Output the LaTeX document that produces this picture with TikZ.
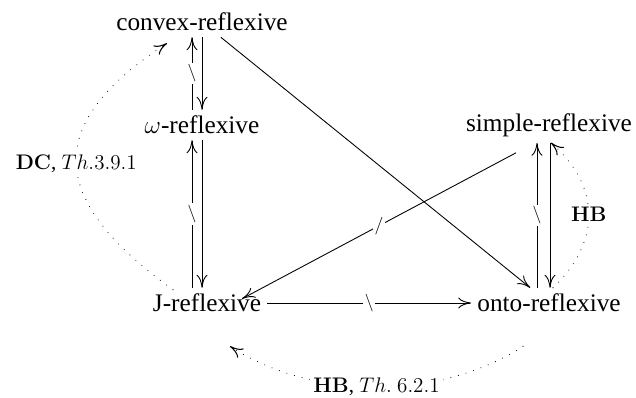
\documentclass[tikz,border=0pt]{standalone}
\usepackage[no-math]{fontspec}
\setmainfont{Liberation Serif}
\usetikzlibrary{arrows.meta,calc}

\begin{document}
\begin{tikzpicture}[x=0.02cm,y=-0.02cm,
  every node/.style={font=\fontsize{14.4}{17}\selectfont},
  imp/.style={line width=0.5pt,-{Computer Modern Rightarrow[length=2.6mm,width=2.2mm]}},
  hint/.style={imp,line cap=round,dash pattern=on 0pt off 4.5pt,line width=0.6pt},
  negmark/.style={fill=white,inner sep=1pt,font=\fontsize{10}{12}\selectfont},
  lbl/.style={fill=white,inner sep=2pt,font=\fontsize{12}{14}\selectfont}]
  \useasboundingbox (0,0) rectangle (636,398);

  \node (cv) at (202,22)  {convex-reflexive};
  \node (om) at (202,125) {$\omega$-reflexive};
  \node (jr) at (207,303) {J-reflexive};
  \node (sr) at (549,125) {simple-reflexive};
  \node (on) at (549,303) {onto-reflexive};

  % left column
  \draw[imp] (cv.south) -- (om.north);
  \draw[imp] ($(om.north)+(-10,0)$) -- node[negmark]{$\backslash$} ($(cv.south)+(-10,0)$);
  \draw[imp] (om.south) -- (om.south |- jr.north);
  \draw[imp] ($(om.south |- jr.north)+(-10,0)$) -- node[negmark]{$\backslash$} ($(om.south)+(-10,0)$);

  % right column
  \draw[imp] ($(sr.south)+(1,0)$) -- ($(on.north)+(1,0)$);
  \draw[imp] ($(on.north)+(-12,0)$) -- node[negmark]{$\backslash$} ($(sr.south)+(-12,0)$);

  % across
  \draw[imp] (cv) -- (on);
  \draw[imp] ($(sr.south)+(-33,10)$) -- node[negmark]{$/$} ($(jr.north)+(35,11)$);
  \draw[imp] (jr.east) -- node[negmark]{$\backslash$} (jr.east -| on.west);

  % dotted ones (with references)
  \draw[hint] ($(jr.north)+(-34,2)$) .. controls +(-123,-89) and +(-127,83) ..
    node[lbl]{$\mathbf{DC}$, $Th.3.9.1$} ($(cv.south)+(-35,6)$);
  \draw[hint] ($(on.north)+(4,0)$) .. controls +(48,-46) and +(50,44) ..
    node[lbl]{$\mathbf{HB}$} ($(sr.south)+(2,0)$);
  \draw[hint] ($(on.south)+(-26,28)$) .. controls +(-82,54) and +(82,54) ..
    node[lbl]{$\mathbf{HB}$, $Th.\ 6.2.1$} ($(jr.south)+(23,28)$);
\end{tikzpicture}
\end{document}
